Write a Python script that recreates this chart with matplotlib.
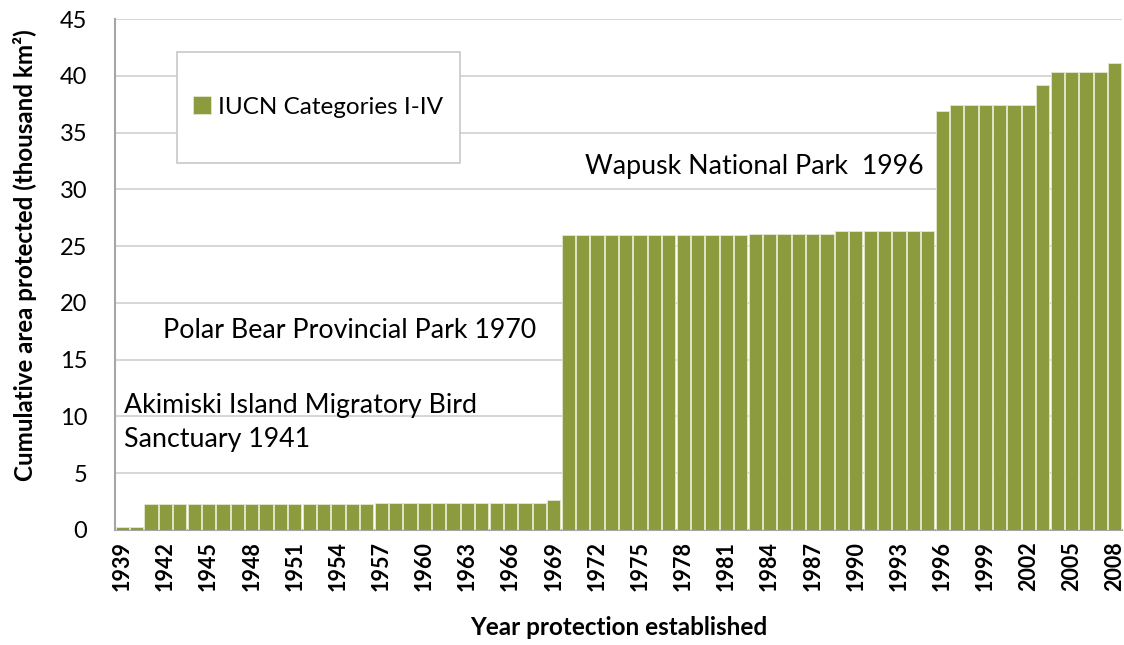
import matplotlib
matplotlib.use("Agg")
import matplotlib.pyplot as plt
from matplotlib.patches import Rectangle

plt.rcParams['font.family'] = ['Lato', 'DejaVu Sans']

# cumulative area protected, thousand km2, per year
years = list(range(1939, 2009))
area = [
    0.25, 0.25,                                              # 1939-1940
    2.3, 2.3, 2.3, 2.3, 2.3, 2.3, 2.3, 2.3, 2.3, 2.3,        # 1941-1950
    2.3, 2.3, 2.3, 2.3, 2.3, 2.3,                            # 1951-1956
    2.4, 2.4, 2.4, 2.4, 2.4, 2.4, 2.4, 2.4, 2.4, 2.4,        # 1957-1966
    2.4, 2.4, 2.6,                                           # 1967-1969
    26.0, 26.0, 26.0, 26.0, 26.0, 26.0, 26.0, 26.0, 26.0,    # 1970-1978
    26.0, 26.0, 26.0, 26.0,                                  # 1979-1982
    26.05, 26.05, 26.05, 26.05, 26.05, 26.05,                # 1983-1988
    26.3, 26.3, 26.3, 26.3, 26.3, 26.3, 26.3,                # 1989-1995
    36.9, 37.4, 37.4, 37.4, 37.4, 37.4, 37.4,                # 1996-2002
    39.2, 40.3, 40.3, 40.3, 40.3, 41.1,                      # 2003-2008
]
tick_years = years[::3]
y_ticks = [0, 5, 10, 15, 20, 25, 30, 35, 40, 45]

bar_color = '#8C9B3E'
grid_color = '#D0D0D0'

fig = plt.figure(figsize=(11.24, 6.45), dpi=100)
ax = fig.add_axes([115 / 1124, 115 / 645, 1007 / 1124, 511 / 645])

bars = ax.bar(range(len(years)), area, width=0.92, color=bar_color,
              edgecolor='#E4E8CF', linewidth=0.6, zorder=3,
              label='IUCN Categories I-IV')

ax.set_xlim(-0.5, len(years) - 0.5)
ax.set_ylim(0, 45)
ax.set_yticks(y_ticks)
ax.set_yticklabels([str(v) for v in y_ticks], fontsize=17)
ax.set_xticks([years.index(y) for y in tick_years])
ax.set_xticklabels([str(y) for y in tick_years], rotation=90,
                   fontsize=15.5, fontweight='bold')
ax.tick_params(axis='x', length=0, pad=8)
ax.tick_params(axis='y', length=0, pad=20)

ax.grid(axis='y', color=grid_color, linewidth=1.2, zorder=0)
for s in ['top', 'right']:
    ax.spines[s].set_visible(False)
for s in ['left', 'bottom']:
    ax.spines[s].set_color('#A6A6A6')
    ax.spines[s].set_linewidth(1.5)

ax.set_ylabel('Cumulative area protected (thousand km²)', fontsize=17.4,
              fontweight='bold')
ax.yaxis.set_label_coords(-0.077, 0.538)
ax.set_xlabel('Year protection established', fontsize=17.5,
              fontweight='bold', labelpad=18)

# annotations
fig.text(124 / 1124, 1 - 405 / 645, 'Akimiski Island Migratory Bird',
         fontsize=19.3, va='center', ha='left')
fig.text(124 / 1124, 1 - 440 / 645, 'Sanctuary 1941',
         fontsize=19.3, va='center', ha='left')
fig.text(163 / 1124, 1 - 330 / 645, 'Polar Bear Provincial Park 1970',
         fontsize=19.3, va='center', ha='left')
fig.text(585 / 1124, 1 - 167 / 645, 'Wapusk National Park  1996',
         fontsize=19.3, va='center', ha='left')

# legend box
fig.patches.append(Rectangle((177 / 1124, 1 - 163 / 645), 283 / 1124, 111 / 645,
                             transform=fig.transFigure, facecolor='white',
                             edgecolor='#C8C8C8', linewidth=1.2, zorder=5))
leg = fig.legend(handles=[bars], loc='center', bbox_to_anchor=(318 / 1124, 1 - 107 / 645),
                 frameon=False, fontsize=17.5, handlelength=0.75, handleheight=0.75,
                 handletextpad=0.3)
leg.set_zorder(6)

fig.savefig('out.png', dpi=100)
